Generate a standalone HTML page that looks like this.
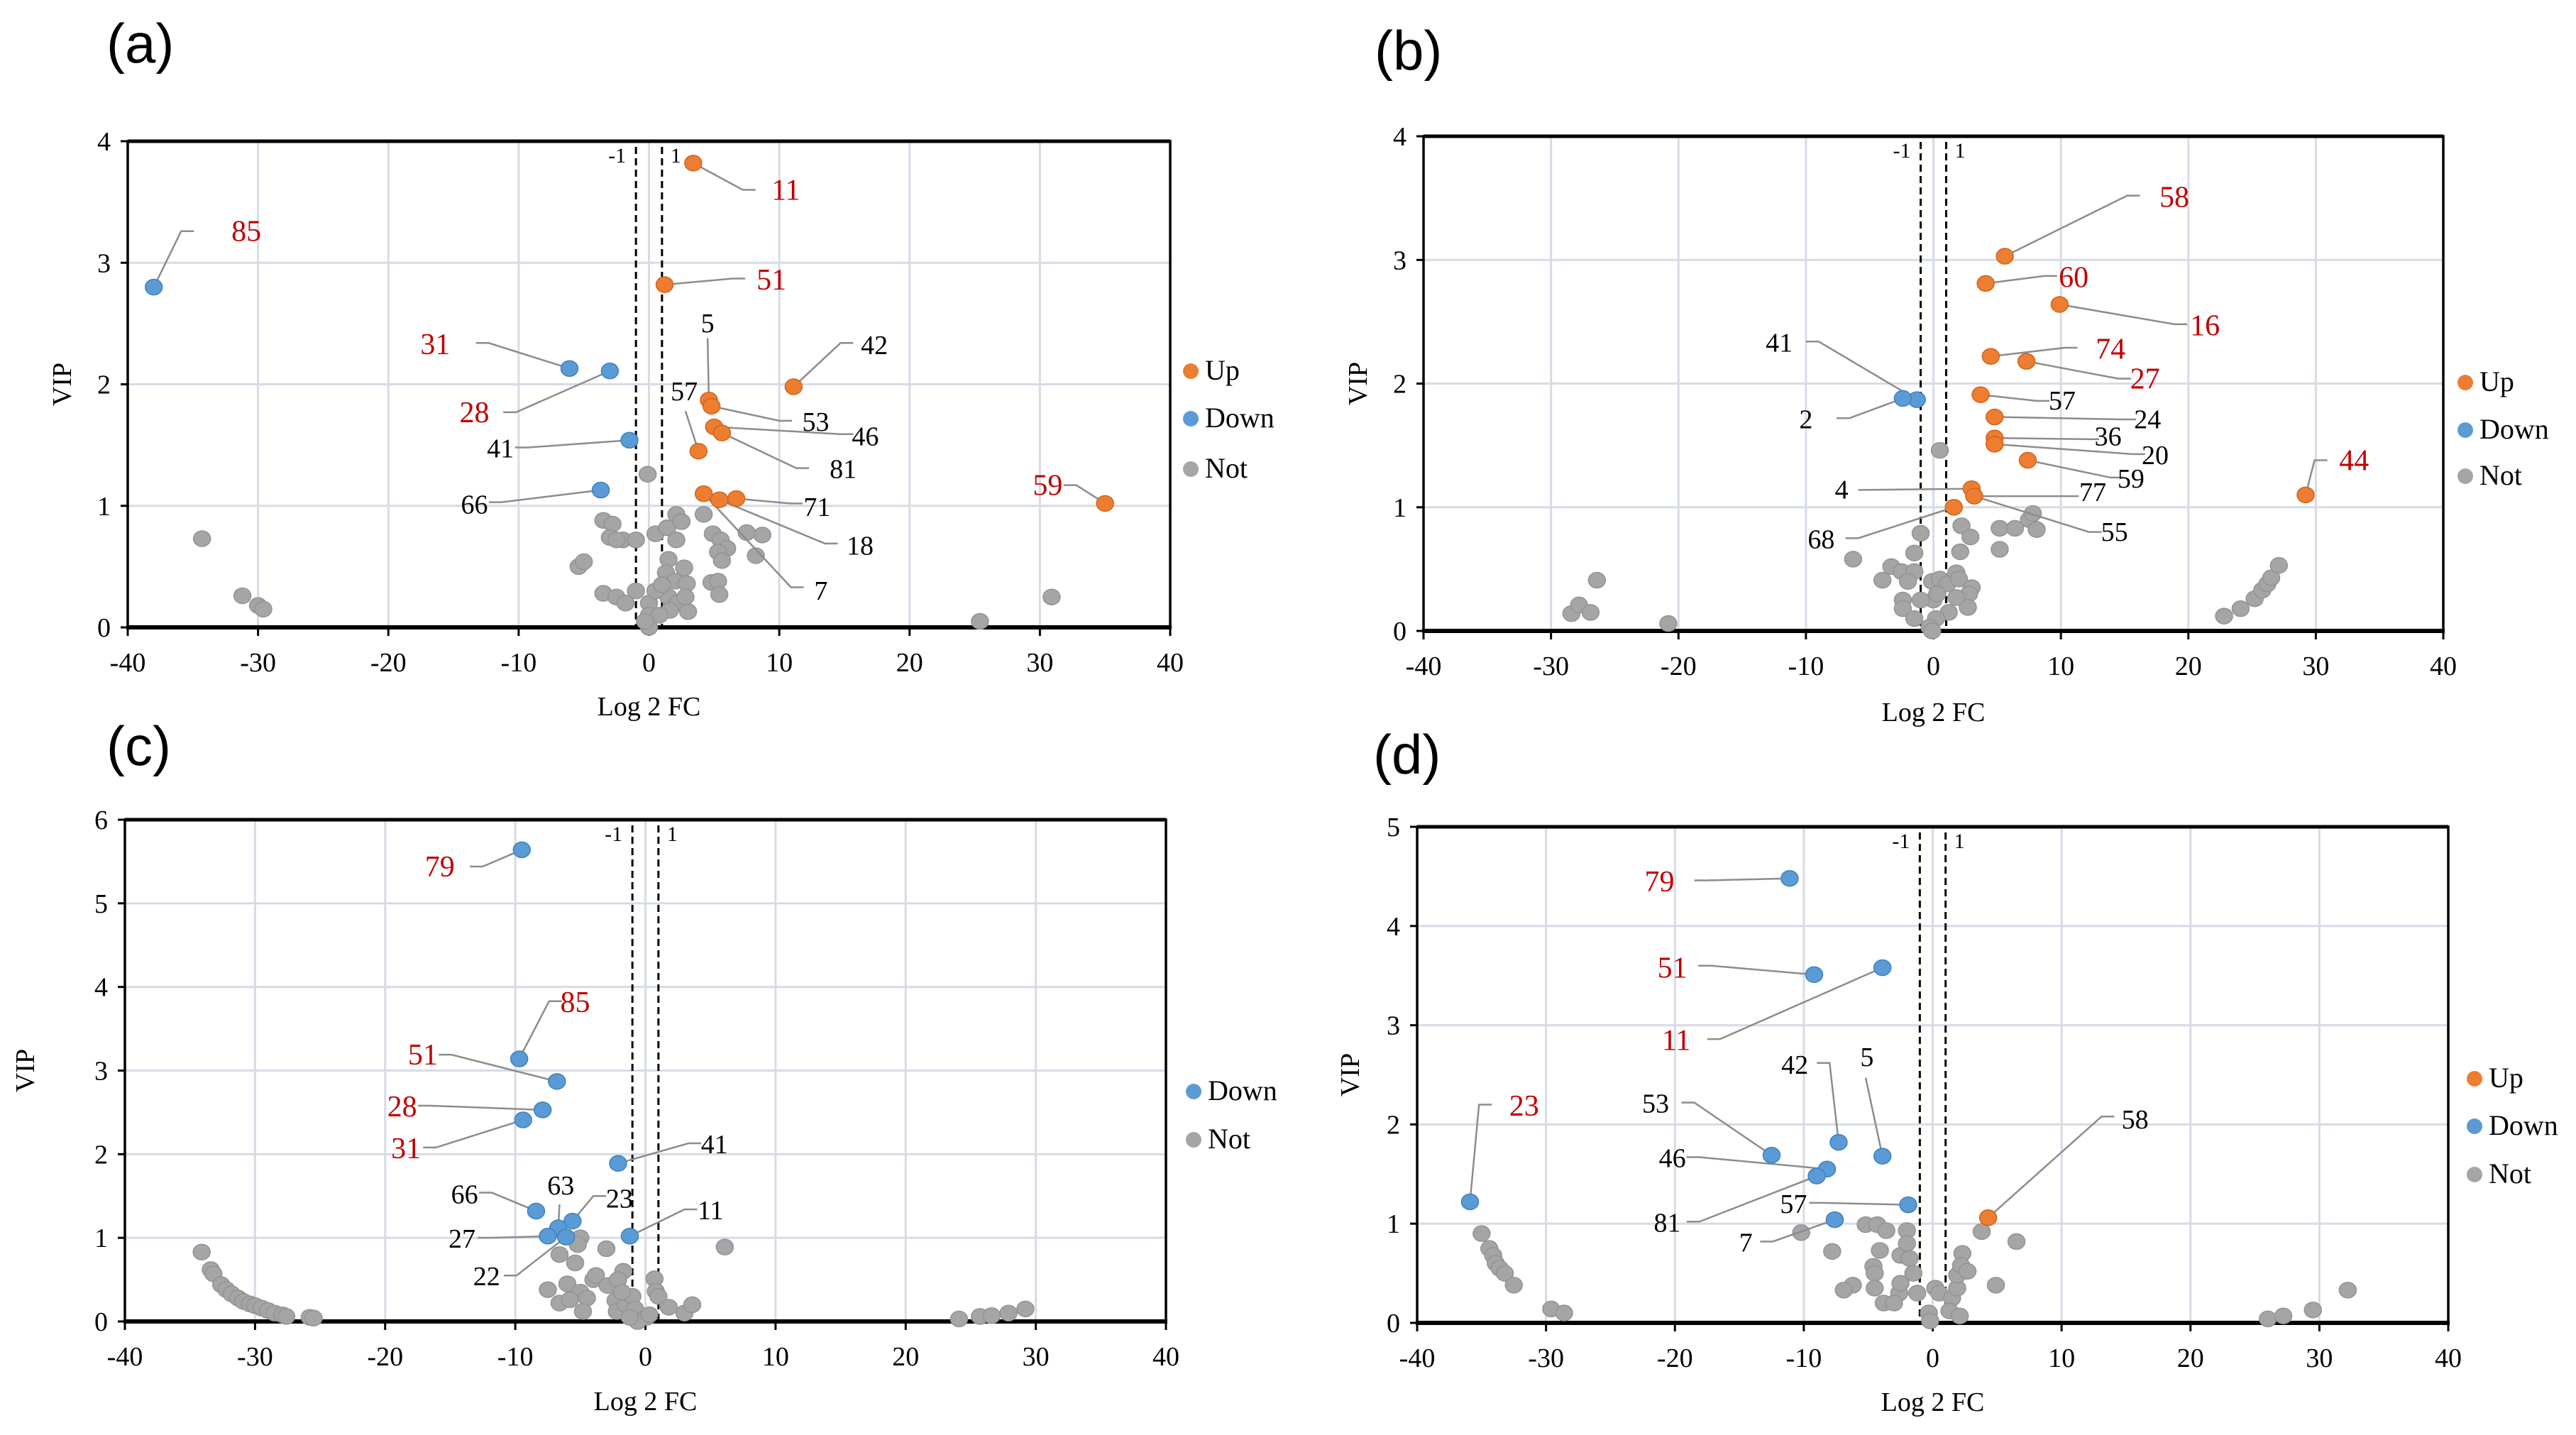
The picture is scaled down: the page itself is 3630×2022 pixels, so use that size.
<!DOCTYPE html>
<html><head><meta charset="utf-8">
<style>
html,body{margin:0;padding:0;background:#fff;}
svg{display:block;}
text{font-family:"Liberation Serif",serif;}
.pl{font-family:"Liberation Sans","DejaVu Sans",sans-serif;}
</style></head>
<body>
<svg id="fig" width="3630" height="2022" viewBox="0 0 3630 2022" xmlns="http://www.w3.org/2000/svg"></svg>
<script>
// ---------- Panel (a) ----------
const aUpX=[3.4,1.2,11.1,4.6,4.8,5.0,5.6,3.8,6.7,5.4,4.2,35.0];
const aUpY=[3.82,2.82,1.98,1.87,1.82,1.65,1.60,1.45,1.06,1.05,1.10,1.02];
const aDownX=[-38.0,-6.1,-3.0,-1.5,-3.7];
const aDownY=[2.80,2.13,2.11,1.54,1.13];
const aNotX=[-34.3,-31.2,-30.0,-29.6,25.4,30.9,-0.1,-3.5,-2.8,-3,-2,-1,-2.5,-5.4,-5,-3.5,-2.5,-1.8,-1,0,0,0,0.5,1.4,2.1,2.5,2.1,4.2,4.9,5.5,6.0,5.3,5.6,7.5,8.7,8.2,1.5,2.7,1.3,2.0,2.9,4.8,5.3,5.4,1.5,2.2,3.0,1.6,0.5,0.8,-0.3,2.8,1];
const aNotY=[0.73,0.26,0.18,0.15,0.05,0.25,1.26,0.88,0.85,0.74,0.72,0.72,0.72,0.50,0.54,0.28,0.25,0.20,0.30,0.20,0.10,0.0,0.77,0.82,0.93,0.87,0.72,0.93,0.77,0.72,0.65,0.62,0.55,0.78,0.76,0.59,0.56,0.49,0.45,0.38,0.36,0.37,0.38,0.27,0.25,0.20,0.13,0.14,0.30,0.10,0.05,0.25,0.35];
const aLblText=["11","51","59","85","31","28","41","66","5","42","57","53","46","81","71","18","7"];
const aLblSer=["u","u","u","d","d","d","d","d","u","u","u","u","u","u","u","u","u"];
const aLblIdx=[0,1,11,0,1,2,3,4,3,2,7,4,5,6,8,9,10];
const aLblX=[10.5,9.4,30.6,-30.9,-16.4,-13.4,-11.4,-13.4,4.5,17.3,2.7,12.8,16.6,14.9,12.9,16.2,13.2];
const aLblY=[3.6,2.86,1.17,3.26,2.33,1.77,1.48,1.02,2.51,2.33,1.95,1.70,1.58,1.31,1.0,0.68,0.31];
const aElbX=[7.2,6.4,32.8,-35.9,-12.3,-10.2,-9.3,-11.3,4.5,14.7,2.8,10.0,14.7,11.3,10.8,13.5,10.9];
const aElbY=[3.6,2.87,1.17,3.26,2.34,1.77,1.48,1.03,2.38,2.34,1.78,1.70,1.59,1.31,1.02,0.69,0.33];
const aLblRed=[1,1,1,1,1,1,0,0,0,0,0,0,0,0,0,0,0];

// ---------- Panel (b) ----------
const bUpX=[5.6,4.1,9.9,4.5,7.3,3.7,4.8,4.8,4.8,7.4,3.0,3.2,1.6,29.2];
const bUpY=[3.03,2.81,2.64,2.22,2.18,1.91,1.73,1.56,1.51,1.38,1.15,1.09,1.00,1.10];
const bDownX=[-1.3,-2.4];
const bDownY=[1.87,1.88];
const bNotX=[-28.4,-27.8,-26.9,-26.4,-20.8,22.8,24.1,25.2,25.8,26.2,26.5,27.1,0.5,-1.0,-6.3,-3.3,-2.5,-4,-1.5,-1.5,-2,-2.4,-2.4,-1.5,-0.1,0.5,1.1,1.8,2.0,3.0,2.8,2.7,1.8,1.2,0,0.2,-0.3,-0.1,-1,2.2,2.9,2.1,5.2,6.4,7.5,7.8,8.1,5.2,0.3];
const bNotY=[0.14,0.21,0.15,0.41,0.06,0.12,0.18,0.26,0.33,0.38,0.43,0.53,1.46,0.79,0.58,0.52,0.48,0.41,0.48,0.63,0.40,0.25,0.18,0.10,0.40,0.42,0.38,0.47,0.42,0.35,0.30,0.19,0.27,0.15,0.25,0.10,0.03,0.0,0.25,0.85,0.76,0.64,0.83,0.83,0.90,0.95,0.82,0.66,0.30];
const bLblText=["58","60","16","74","27","44","57","24","36","20","59","77","55","4","68","41","2"];
const bLblSer=["u","u","u","u","u","u","u","u","u","u","u","u","u","u","u","d","d"];
const bLblIdx=[0,1,2,3,4,13,5,6,7,8,9,11,11,10,12,0,1];
const bLblX=[18.9,11.0,21.3,13.9,16.6,33.0,10.1,16.8,13.7,17.4,15.5,12.5,14.2,-7.2,-8.8,-12.1,-10.0];
const bLblY=[3.51,2.86,2.47,2.28,2.04,1.38,1.87,1.72,1.58,1.43,1.24,1.13,0.81,1.15,0.75,2.34,1.72];
const bElbX=[15.2,8.7,18.9,10.3,14.5,29.9,8.1,14.9,12.0,15.6,13.9,10.4,12.2,-5.9,-5.9,-9.0,-6.6];
const bElbY=[3.52,2.87,2.48,2.29,2.04,1.38,1.86,1.71,1.55,1.43,1.24,1.09,0.80,1.14,0.75,2.34,1.72];
const bLblRed=[1,1,1,1,1,1,0,0,0,0,0,0,0,0,0,0,0];

// ---------- Panel (c) ----------
const cUpX=[];
const cUpY=[];
const cDownX=[-9.5,-9.7,-6.8,-7.9,-9.4,-2.1,-8.4,-5.6,-6.7,-7.5,-6.1,-1.2];
const cDownY=[5.64,3.14,2.87,2.53,2.41,1.89,1.32,1.20,1.12,1.02,1.01,1.02];
const cNotX=[-34.1,-33.4,-33.2,-32.6,-32.2,-31.8,-31.3,-30.9,-30.4,-30,-29.5,-29,-28.5,-27.9,-27.6,-25.8,-25.5,24.1,25.7,26.6,27.9,29.2,6.1,-5.0,-5.2,-3.0,-6.6,-5.4,-7.5,-6.0,-4,-3.8,-2.9,-1.7,-2.1,-5,-4.5,-6.6,-4.8,-5.8,-2.3,-2.2,-1.5,-1,-0.8,0.1,-0.6,0.7,0.8,1,1.8,3.0,3.6,-1.2,0.3,-1.8];
const cNotY=[0.83,0.62,0.57,0.44,0.38,0.33,0.28,0.24,0.21,0.19,0.16,0.13,0.10,0.08,0.06,0.05,0.04,0.03,0.06,0.07,0.10,0.15,0.89,1.00,0.92,0.87,0.80,0.70,0.38,0.45,0.50,0.55,0.43,0.60,0.50,0.35,0.28,0.22,0.12,0.26,0.25,0.12,0.20,0.30,0.15,0.05,0.0,0.51,0.36,0.30,0.17,0.10,0.20,0.05,0.08,0.35];
const cLblText=["79","85","51","28","31","41","66","63","23","11","27","22"];
const cLblSer=["d","d","d","d","d","d","d","d","d","d","d","d"];
const cLblIdx=[0,1,2,3,4,5,6,8,7,11,9,10];
const cLblX=[-15.8,-5.4,-17.1,-18.7,-18.4,5.3,-13.9,-6.5,-2.0,5.0,-14.1,-12.2];
const cLblY=[5.44,3.82,3.19,2.57,2.07,2.13,1.53,1.64,1.48,1.34,1.0,0.55];
const cElbX=[-12.5,-7.4,-14.9,-16.5,-16.1,3.3,-11.8,-6.6,-4.0,3.0,-11.9,-9.9];
const cElbY=[5.44,3.83,3.19,2.58,2.08,2.13,1.54,1.40,1.50,1.34,1.00,0.55];
const cLblRed=[1,1,1,1,1,0,0,0,0,0,0,0];

// ---------- Panel (d) ----------
const dUpX=[4.3];
const dUpY=[1.06];
const dDownX=[-11.1,-9.2,-3.9,-7.3,-12.5,-3.9,-8.2,-9.0,-1.9,-7.6,-35.9];
const dDownY=[4.48,3.51,3.58,1.82,1.69,1.68,1.55,1.48,1.19,1.04,1.22];
const dNotX=[-35,-34.4,-34.1,-33.9,-33.6,-33.2,-32.5,-29.6,-28.6,26,27.2,29.5,32.2,-10.2,-7.8,-5.2,-4.3,-3.6,-2.0,-4.1,-2.5,-2,-1.8,-4.6,-4.5,-6.2,-6.9,-4.5,-3.8,-2.6,-2.5,-3,-1.5,-1.2,0.2,0.5,-0.3,-0.2,1.5,1.9,1.9,2.3,2.2,2.7,3.8,6.5,4.9,1.3,2.1];
const dNotY=[0.90,0.75,0.68,0.60,0.55,0.50,0.38,0.14,0.10,0.04,0.07,0.13,0.33,0.91,0.72,0.99,0.99,0.93,0.93,0.73,0.68,0.80,0.65,0.57,0.50,0.38,0.33,0.35,0.20,0.30,0.40,0.20,0.50,0.30,0.35,0.30,0.10,0.02,0.25,0.35,0.48,0.70,0.58,0.52,0.92,0.82,0.38,0.12,0.07];
const dLblText=["79","51","11","23","42","5","53","46","81","57","7","58"];
const dLblSer=["d","d","d","d","d","d","d","d","d","d","d","u"];
const dLblIdx=[0,1,2,10,3,5,4,6,7,8,9,0];
const dLblX=[-21.2,-20.2,-19.9,-31.7,-10.7,-5.1,-21.5,-20.2,-20.6,-10.8,-14.5,15.7];
const dLblY=[4.45,3.58,2.85,2.19,2.61,2.69,2.22,1.67,1.02,1.21,0.82,2.06];
const dElbX=[-17.5,-17.2,-16.5,-35.2,-8.0,-5.2,-18.5,-18.1,-18.1,-8.6,-12.4,13.1];
const dElbY=[4.46,3.60,2.86,2.20,2.62,2.47,2.22,1.67,1.02,1.21,0.82,2.08];
const dLblRed=[1,1,1,1,0,0,0,0,0,0,0,0];

const NS="http://www.w3.org/2000/svg";
const svg=document.getElementById('fig');
function mk(tag,attrs,parent,txt){const e=document.createElementNS(NS,tag);for(const k in attrs)e.setAttribute(k,attrs[k]);if(txt!==undefined)e.textContent=txt;(parent||svg).appendChild(e);return e;}

const panels=[
 {id:'a',L:180,R:1649,T:199,B:884,ymax:4,letter:[150,88],vipX:87,xlabY:1008,leg:[1678,[523,590,661]],legItems:['u','d','n'],
  upX:aUpX,upY:aUpY,dnX:aDownX,dnY:aDownY,nX:aNotX,nY:aNotY,lt:aLblText,ls:aLblSer,li:aLblIdx,lx:aLblX,ly:aLblY,ex:aElbX,ey:aElbY,lr:aLblRed},
 {id:'b',L:2006,R:3443,T:192,B:889,ymax:4,letter:[1937,98],vipX:1913,xlabY:1016,leg:[3474,[539,606,671]],legItems:['u','d','n'],
  upX:bUpX,upY:bUpY,dnX:bDownX,dnY:bDownY,nX:bNotX,nY:bNotY,lt:bLblText,ls:bLblSer,li:bLblIdx,lx:bLblX,ly:bLblY,ex:bElbX,ey:bElbY,lr:bLblRed},
 {id:'c',L:176,R:1643,T:1155,B:1862,ymax:6,letter:[150,1078],vipX:35,xlabY:1987,leg:[1682,[1538,1606]],legItems:['d','n'],
  upX:cUpX,upY:cUpY,dnX:cDownX,dnY:cDownY,nX:cNotX,nY:cNotY,lt:cLblText,ls:cLblSer,li:cLblIdx,lx:cLblX,ly:cLblY,ex:cElbX,ey:cElbY,lr:cLblRed},
 {id:'d',L:1997,R:3450,T:1165,B:1864,ymax:5,letter:[1935,1090],vipX:1902,xlabY:1988,leg:[3487,[1520,1587,1655]],legItems:['u','d','n'],
  upX:dUpX,upY:dUpY,dnX:dDownX,dnY:dDownY,nX:dNotX,nY:dNotY,lt:dLblText,ls:dLblSer,li:dLblIdx,lx:dLblX,ly:dLblY,ex:dElbX,ey:dElbY,lr:dLblRed}
];
const COL={u:'#ed7d31',d:'#5b9bd5',n:'#a5a5a5'};
const STK={u:'#d0651c',d:'#3d80c0',n:'#939393'};
const NAME={u:'Up',d:'Down',n:'Not'};
const xTicks=[-40,-30,-20,-10,0,10,20,30,40];

panels.forEach(p=>{
  const g=mk('g',{});
  
  
  const sx=v=>p.L+(v+40)/80*(p.R-p.L);
  const sy=v=>p.B-v/p.ymax*(p.B-p.T);
  // letter
  const lt=mk('text',{x:p.letter[0],y:p.letter[1],'font-size':78,'class':'pl'},g,'('+p.id+')');
  
  
  // grid
  xTicks.forEach(t=>{
    if(t===-40||t===40)return;
    const l=mk('line',{x1:sx(t),x2:sx(t),y1:p.T,y2:p.B,stroke:'#d6dbe6','stroke-width':3},g);
    
    
  });
  for(let v=1;v<p.ymax;v++){
    const l=mk('line',{x1:p.L,x2:p.R,y1:sy(v),y2:sy(v),stroke:'#d6dbe6','stroke-width':3},g);
    
    
  }
  // frame
  const fr=mk('path',{d:`M${p.L},${p.B}V${p.T}H${p.R}V${p.B}`,fill:'none',stroke:'#000','stroke-width':3.5},g);
  
  
  mk('line',{x1:p.L,x2:p.R,y1:p.T,y2:p.T,stroke:'#000','stroke-width':5},g);
  const xa=mk('line',{x1:p.L-2,x2:p.R+2,y1:p.B,y2:p.B,stroke:'#000','stroke-width':6},g);
  
  
  // ticks
  xTicks.forEach(t=>{
    mk('line',{x1:sx(t),x2:sx(t),y1:p.B,y2:p.B+12,stroke:'#000','stroke-width':3},g);
    const tx=mk('text',{x:sx(t),y:p.B+62,'font-size':38,'text-anchor':'middle'},g,String(t));
    
    
  });
  for(let v=0;v<=p.ymax;v++){
    mk('line',{x1:p.L-10,x2:p.L,y1:sy(v),y2:sy(v),stroke:'#000','stroke-width':3},g);
    const ty=mk('text',{x:p.L-24,y:sy(v)+13,'font-size':38,'text-anchor':'end'},g,String(v));
    
    
  }
  // axis titles
  const yt=mk('text',{x:0,y:0,'font-size':38,'text-anchor':'middle',transform:`translate(${p.vipX+13},${(p.T+p.B)/2}) rotate(-90)`},g,'VIP');
  
  
  const xt=mk('text',{x:(p.L+p.R)/2,y:p.xlabY,'font-size':38,'text-anchor':'middle'},g,'Log 2 FC');
  
  
  // threshold lines
  [-1,1].forEach(t=>{
    const dl=mk('line',{x1:sx(t),x2:sx(t),y1:p.T+8,y2:p.B,stroke:'#000','stroke-width':3,'stroke-dasharray':'10,6'},g);
    
    
    const tl=mk('text',{x:t<0?sx(t)-14:sx(t)+12,y:p.T+30,'font-size':30,'text-anchor':t<0?'end':'start'},g,String(t));
    
    
  });
  // points
  const drawPts=(xs,ys,s)=>{
    for(let i=0;i<xs.length;i++){
      const c=mk('ellipse',{cx:sx(xs[i]),cy:sy(ys[i]),rx:12,ry:11,fill:COL[s],stroke:STK[s],'stroke-width':1.5},g);
      
      
    }
  };
  drawPts(p.nX,p.nY,'n');
  // leaders
  for(let i=0;i<p.lt.length;i++){
    const s=p.ls[i];const k=p.li[i];
    const px=s==='u'?p.upX[k]:p.dnX[k];const py=s==='u'?p.upY[k]:p.dnY[k];
    const ex=sx(p.ex[i]),ey=sy(p.ey[i]),lx=sx(p.lx[i]),ly=sy(p.ly[i]);
    let d=`M${sx(px)},${sy(py)}L${ex},${ey}`;
    if(Math.abs(lx-ex)>28&&Math.abs(ly-ey)<30){const dir=lx>ex?1:-1;d+=`h${dir*18}`;}
    const ln=mk('path',{d:d,fill:'none',stroke:'#8c8c8c','stroke-width':2.5},g);
    
    
  }
  drawPts(p.upX,p.upY,'u');
  drawPts(p.dnX,p.dnY,'d');
  for(let i=0;i<p.lt.length;i++){
    const lb=mk('text',{x:sx(p.lx[i]),y:sy(p.ly[i])+14,'font-size':p.lr[i]?42:38,'text-anchor':'middle',fill:p.lr[i]?'#c00000':'#000'},g,p.lt[i]);
    
    
  }
  // legend
  p.legItems.forEach((s,j)=>{
    const y=p.leg[1][j];
    const m=mk('ellipse',{cx:p.leg[0],cy:y,rx:11,ry:11,fill:COL[s]},g);
    
    
    const t=mk('text',{x:p.leg[0]+20,y:y+12,'font-size':40},g,NAME[s]);
    
    
  });
});
</script>
</body></html>
